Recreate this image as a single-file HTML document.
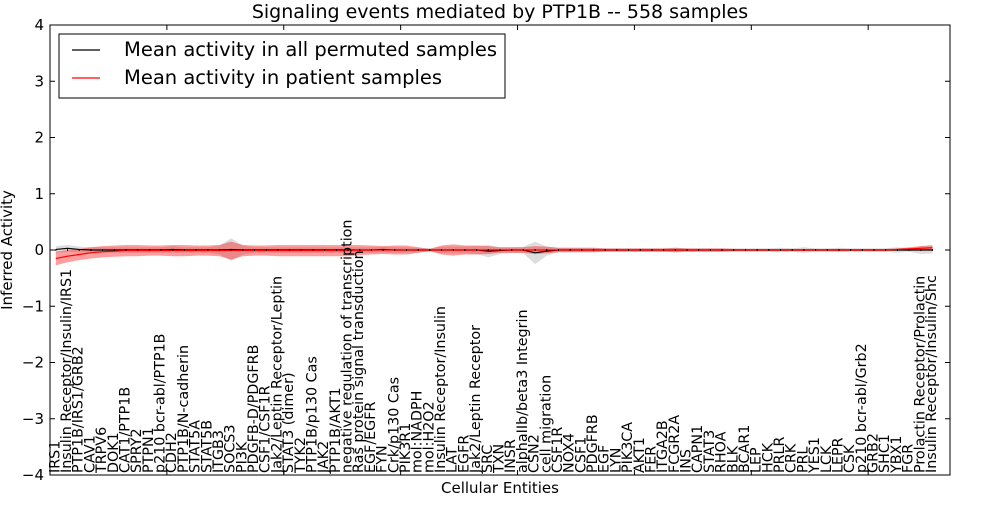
<!DOCTYPE html>
<html><head><meta charset="utf-8"><style>
body{margin:0;background:#fff;font-family:"Liberation Sans","DejaVu Sans",sans-serif}
svg text{font-family:"DejaVu Sans","Liberation Sans",sans-serif}
</style></head><body>
<svg id="chart" width="1000" height="500" xmlns="http://www.w3.org/2000/svg">
<rect width="1000" height="500" fill="#fff"/>
<text x="500" y="18" font-size="19" text-anchor="middle">Signaling events mediated by PTP1B -- 558 samples</text>
<g id="plot"></g>
<text transform="translate(12,250) rotate(-90)" font-size="15" text-anchor="middle">Inferred Activity</text>
<text x="500" y="493" font-size="15" text-anchor="middle">Cellular Entities</text>
<g>
<rect x="59" y="34" width="446" height="64" fill="#fff" stroke="#000" stroke-width="1"/>
<line x1="72" y1="50" x2="100" y2="50" stroke="#000" stroke-width="1.2"/>
<text x="124" y="56" font-size="19.5">Mean activity in all permuted samples</text>
<line x1="72" y1="78" x2="100" y2="78" stroke="#f00" stroke-width="1.2"/>
<text x="124" y="84" font-size="19.5">Mean activity in patient samples</text>
</g>
</svg>
<script>
const categories=["IRS1","Insulin Receptor/Insulin/IRS1","PTP1B/IRS1/GRB2","CAV1","TRPV6","DOK1","CAT1/PTP1B","SPRY2","PTPN1","p210 bcr-abl/PTP1B",
"CDH2","PTP1B/N-cadherin","STAT5A","STAT5B","ITGB3","SOCS3","PI3K","PDGFB-D/PDGFRB","CSF1/CSF1R","Jak2/Leptin Receptor/Leptin",
"STAT3 (dimer)","TYK2","PTP1B/p130 Cas","JAK2","PTP1B/AKT1","negative regulation of transcription","Ras protein signal transduction","EGF/EGFR","FYN","Crk/p130 Cas",
"PIK3R1","mol:NADPH","mol:H2O2","Insulin Receptor/Insulin","LAT","EGFR","Jak2/Leptin Receptor","SRC","TXN","INSR",
"alphaIIb/beta3 Integrin","CSN2","cell migration","CSF1R","NOX4","CSF1","PDGFRB","EGF","LYN","PIK3CA",
"AKT1","FER","ITGA2B","FCGR2A","INS","CAPN1","STAT3","RHOA","BLK","BCAR1",
"LEP","HCK","PRLR","CRK","PRL","YES1","LCK","LEPR","CSK","p210 bcr-abl/Grb2",
"GRB2","SHC1","YBX1","FGR","Prolactin Receptor/Prolactin","Insulin Receptor/Insulin/Shc"];
const patientMean=[-0.15,-0.11,-0.08,-0.05,-0.03,-0.02,-0.01,-0.01,-0.01,-0.01,
-0.01,-0.01,-0.01,-0.01,-0.01,-0.01,-0.01,-0.01,-0.01,-0.01,
-0.01,-0.01,-0.01,-0.01,-0.01,-0.01,0,0,0,0,
0,0,0,0,0,0,0,0,0,0,
0,0,0,0,0,0,0,0,0,0,
0,0,0,0,0,0,0,0,0,0,
0,0,0,0,0,0,0,0,0,0,
0,0,0.01,0.02,0.03,0.04];
const patientSpread=[0.12,0.11,0.1,0.1,0.1,0.1,0.1,0.1,0.09,0.09,
0.1,0.1,0.09,0.09,0.1,0.16,0.1,0.09,0.09,0.1,
0.1,0.1,0.1,0.1,0.1,0.1,0.09,0.08,0.07,0.08,
0.08,0.05,0.02,0.08,0.1,0.08,0.08,0.07,0.05,0.05,
0.05,0.07,0.06,0.04,0.04,0.04,0.04,0.03,0.03,0.03,
0.03,0.03,0.03,0.04,0.03,0.03,0.03,0.03,0.02,0.02,
0.02,0.02,0.02,0.02,0.02,0.02,0.02,0.02,0.02,0.02,
0.02,0.02,0.02,0.03,0.04,0.05];
const permMean=[0.01,0.03,0.01,0,0,0,0,0,0,0,
0.01,0,0,0,0,0.01,0,0,0,0,
0,0,0,0,0,0,0,0,0.01,0,
0,0,0,0,0,0,0,-0.02,-0.01,0,
0,-0.05,-0.02,0,0,0,0,0,0,0,
0,0,0,0,0,0,0,0,0,0,
0,0,0,0,0,0,0,0,0,0,
0,0,0,0,0,0];
const permSpread=[0.06,0.06,0.05,0.05,0.05,0.05,0.05,0.05,0.05,0.05,
0.06,0.05,0.05,0.05,0.08,0.2,0.08,0.05,0.05,0.05,
0.05,0.05,0.05,0.05,0.05,0.05,0.05,0.05,0.05,0.05,
0.05,0.04,0.03,0.06,0.06,0.06,0.07,0.11,0.06,0.05,
0.06,0.2,0.08,0.04,0.04,0.04,0.04,0.03,0.03,0.03,
0.03,0.03,0.03,0.04,0.03,0.03,0.03,0.03,0.03,0.03,
0.03,0.03,0.04,0.03,0.05,0.03,0.03,0.04,0.03,0.03,
0.03,0.03,0.05,0.03,0.07,0.06];
const yTicks=[-4,-3,-2,-1,0,1,2,3,4];
const xTicks=[10,20,30,40,50,60,70];
const NS="http://www.w3.org/2000/svg";
const L=50,R=950,T=25,B=475,XMAX=77;
const xs=i=>L+(i+0.5)*(R-L)/XMAX, xd=v=>L+v*(R-L)/XMAX;
const ys=v=>T+(4-v)*(B-T)/8;
const g=document.getElementById('plot');
function mk(t,a){const e=document.createElementNS(NS,t);for(const k in a)e.setAttribute(k,a[k]);g.appendChild(e);return e;}
function band(mean,spread,fill,op,name){
  let up=mean.map((m,i)=>xs(i)+','+ys(m+spread[i]));
  let dn=mean.map((m,i)=>xs(i)+','+ys(m-spread[i])).reverse();
  const p=mk('polygon',{points:up.concat(dn).join(' '),fill:fill,'fill-opacity':op});
  
  
}
band(permMean,permSpread,'#aaa',0.4,'permuted-band');
band(patientMean,patientSpread,'#f00',0.38,'patient-band');
const l1=mk('polyline',{points:permMean.map((m,i)=>xs(i)+','+ys(m)).join(' '),fill:'none',stroke:'#000','stroke-width':1.2});


const l2=mk('polyline',{points:patientMean.map((m,i)=>xs(i)+','+ys(m)).join(' '),fill:'none',stroke:'#f00','stroke-width':1.2});


categories.forEach((c,i)=>{
  const d=mk('line',{x1:xs(i),x2:xs(i),y1:ys(0)-1,y2:ys(0)+1,stroke:'#000','stroke-width':1});
  
  
  const t=mk('text',{transform:`translate(${xs(i)+3.5},${B-2}) rotate(-90)`,'font-size':14.3});
  t.textContent=c;
  
  
});
yTicks.forEach(v=>{
  const y=ys(v);
  const a=mk('line',{x1:L,x2:L+5,y1:y,y2:y,stroke:'#000'});
  
  
  const b=mk('line',{x1:R-5,x2:R,y1:y,y2:y,stroke:'#000'});
  
  
  const t=mk('text',{x:L-6,y:y+5,'font-size':15,'text-anchor':'end'});
  t.textContent=String(v).replace('-','\u2212');
  
  
});
xTicks.forEach(v=>{
  const x=xd(v);
  const a=mk('line',{x1:x,x2:x,y1:T,y2:T+5,stroke:'#000'});
  
  
  const b=mk('line',{x1:x,x2:x,y1:B-5,y2:B,stroke:'#000'});
  
  
});
const fr=mk('rect',{x:L,y:T,width:R-L,height:B-T,fill:'none',stroke:'#000','stroke-width':1});


</script>
</body></html>
